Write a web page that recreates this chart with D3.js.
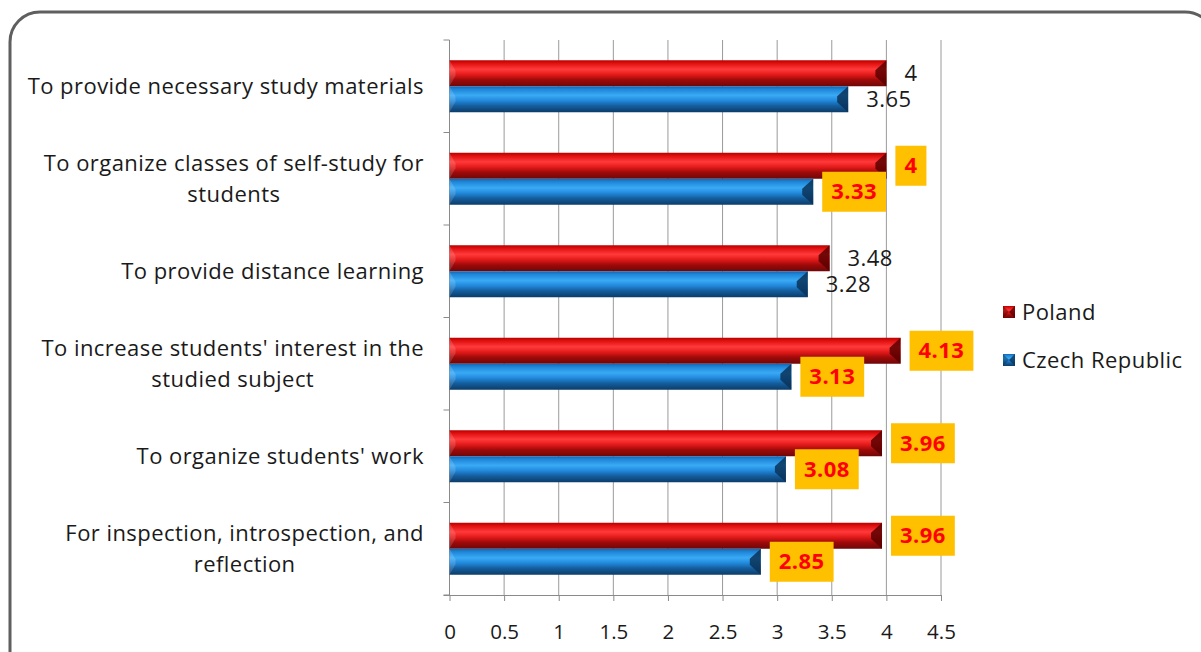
<!DOCTYPE html>
<html>
<head>
<meta charset="utf-8">
<script src="https://cdn.jsdelivr.net/npm/d3@7"></script>
<style>
  body { margin: 0; background: #fff; }
  svg { display: block; }
  text { font-family: "Open Sans", Lato, sans-serif; }
</style>
</head>
<body>
<svg id="chart" width="1201" height="652"></svg>
<script>
// data
const categories = [
  ["To provide necessary study materials"],
  ["To organize classes of self-study for", "students"],
  ["To provide distance learning"],
  ["To increase students' interest in the", "studied subject"],
  ["To organize students' work"],
  ["For inspection, introspection, and", "reflection"]
];
const poland = [4, 4, 3.48, 4.13, 3.96, 3.96];
const czech = [3.65, 3.33, 3.28, 3.13, 3.08, 2.85];
// which labels get the orange box
const polandBoxed = [false, true, false, true, true, true];
const czechBoxed = [false, true, false, true, true, true];
const xTicks = [0, 0.5, 1, 1.5, 2, 2.5, 3, 3.5, 4, 4.5];
const seriesNames = ["Poland", "Czech Republic"];

const fontSize = '22px';
const spacing = '0.45px';
const svg = d3.select('#chart');

// outer frame
svg.append('rect')
  .attr('x', 10).attr('y', 12)
  .attr('width', 1205).attr('height', 700)
  .attr('rx', 30).attr('ry', 30)
  .attr('fill', '#fff')
  .attr('stroke', '#5f5f5f')
  .attr('stroke-width', 3);

const plotLeft = 449.5, plotRight = 941, plotTop = 40, plotBottom = 595;

const x = d3.scaleLinear().domain([0, 4.5]).range([plotLeft, plotRight]);
const y = d3.scaleBand().domain(d3.range(categories.length)).range([plotTop, plotBottom]);

// gradients for the bevelled bars
const defs = svg.append('defs');
function addGrad(id, stops) {
  const g = defs.append('linearGradient').attr('id', id)
    .attr('x1', 0).attr('y1', 0).attr('x2', 0).attr('y2', 1);
  stops.forEach(s => g.append('stop').attr('offset', s[0]).attr('stop-color', s[1]));
}
addGrad('redGrad', [[0, '#b80000'], [0.12, '#e01010'], [0.35, '#ff3a3a'], [0.55, '#e41a1a'], [0.75, '#a00a0a'], [1, '#6e0606']]);
addGrad('blueGrad', [[0, '#1565b0'], [0.12, '#1f86d8'], [0.35, '#3aaaf5'], [0.55, '#2289dc'], [0.75, '#145e9e'], [1, '#0c3c68']]);

// gridlines
svg.append('g')
  .selectAll('line')
  .data(xTicks.slice(1))
  .join('line')
  .attr('x1', d => x(d)).attr('x2', d => x(d))
  .attr('y1', plotTop).attr('y2', plotBottom)
  .attr('stroke', '#9a9a9a').attr('stroke-width', 1);

// bottom axis
const xAxis = d3.axisBottom(x).tickValues(xTicks).tickSize(6).tickSizeOuter(0)
  .tickFormat(d => String(d));
const gx = svg.append('g').attr('transform', `translate(0,${plotBottom})`).call(xAxis);
gx.select('.domain').attr('stroke', '#8a8a8a').attr('d', `M${plotLeft - 6},0.5H${plotRight}`);
gx.selectAll('.tick line').attr('stroke', '#8a8a8a');
gx.selectAll('.tick text')
  .attr('y', 37).attr('dy', '0.35em')
  .attr('fill', '#1a1a1a')
  .style('font-size', '20.5px');

// left axis line + category boundary ticks
svg.append('line')
  .attr('x1', plotLeft).attr('x2', plotLeft).attr('y1', plotTop).attr('y2', plotBottom)
  .attr('stroke', '#8a8a8a');
svg.append('g')
  .selectAll('line')
  .data(d3.range(categories.length + 1))
  .join('line')
  .attr('x1', plotLeft - 6).attr('x2', plotLeft)
  .attr('y1', d => plotTop + d * y.bandwidth()).attr('y2', d => plotTop + d * y.bandwidth())
  .attr('stroke', '#8a8a8a');

// category labels: block right aligned, lines centred in block
const labelRight = 424;
const lineH = 31;
categories.forEach((lines, i) => {
  const cy = y(i) + y.bandwidth() / 2;
  const g = svg.append('g');
  const texts = lines.map((ln, j) => g.append('text')
    .attr('y', cy + (j - (lines.length - 1) / 2) * lineH)
    .attr('dy', '0.35em')
    .attr('text-anchor', 'middle')
    .attr('fill', '#1a1a1a')
    .style('font-size', fontSize)
    .style('letter-spacing', spacing)
    .text(ln));
  const w = d3.max(texts, t => t.node().getComputedTextLength());
  texts.forEach(t => t.attr('x', labelRight - w / 2));
});

// bars
const barH = 26;
const series = [
  { vals: poland, boxed: polandBoxed, grad: 'redGrad', cap: '#5a0000', off: -barH },
  { vals: czech, boxed: czechBoxed, grad: 'blueGrad', cap: '#0a3358', off: 0 }
];

series.forEach(s => {
  const g = svg.append('g');
  s.vals.forEach((v, i) => {
    const y0 = y(i) + y.bandwidth() / 2 + s.off;
    const x1 = x(v);
    g.append('rect')
      .attr('x', plotLeft).attr('y', y0)
      .attr('width', x1 - plotLeft).attr('height', barH)
      .attr('fill', `url(#${s.grad})`);
    // end cap facet
    g.append('polygon')
      .attr('points', [[x1 - 11, y0 + barH * 0.38], [x1, y0], [x1, y0 + barH], [x1 - 11, y0 + barH * 0.62]].map(p => p.join(',')).join(' '))
      .attr('fill', s.cap).attr('opacity', 0.85);
    // left facet
    g.append('polygon')
      .attr('points', [[plotLeft, y0], [plotLeft + 6, y0 + barH * 0.4], [plotLeft + 6, y0 + barH * 0.6], [plotLeft, y0 + barH]].map(p => p.join(',')).join(' '))
      .attr('fill', '#fff').attr('opacity', 0.15);
  });
});

// data labels (drawn after bars so boxes sit on top)
series.forEach(s => {
  const g = svg.append('g');
  s.vals.forEach((v, i) => {
    const cy = y(i) + y.bandwidth() / 2 + s.off + barH / 2;
    const bx = x(v) + 9;
    const t = g.append('text')
      .attr('x', bx + 9).attr('y', cy).attr('dy', '0.35em')
      .style('font-size', fontSize)
      .style('letter-spacing', spacing)
      .text(String(v));
    if (s.boxed[i]) {
      t.attr('fill', '#ff0000').style('font-weight', 'bold');
      const w = t.node().getComputedTextLength();
      g.insert('rect', 'text')
        .attr('x', bx).attr('y', cy - 20)
        .attr('width', w + 18).attr('height', 40)
        .attr('fill', '#ffc000');
    } else {
      t.attr('fill', '#1a1a1a');
    }
  });
});

// legend
const legend = svg.append('g').attr('transform', 'translate(1003,0)');
const legendY = [312, 360];
seriesNames.forEach((name, i) => {
  const s = series[i];
  const ly = legendY[i];
  legend.append('rect')
    .attr('x', 0).attr('y', ly - 6).attr('width', 12).attr('height', 12)
    .attr('fill', `url(#${s.grad})`);
  legend.append('polygon')
    .attr('points', '0,' + (ly - 6) + ' 6,' + ly + ' 0,' + (ly + 6))
    .attr('fill', s.cap).attr('opacity', 0.5);
  legend.append('polygon')
    .attr('points', '12,' + (ly - 6) + ' 6,' + ly + ' 12,' + (ly + 6))
    .attr('fill', s.cap).attr('opacity', 0.8);
  legend.append('text')
    .attr('x', 19).attr('y', ly).attr('dy', '0.35em')
    .attr('fill', '#1a1a1a')
    .style('font-size', fontSize)
    .style('letter-spacing', spacing)
    .text(name);
});
</script>
</body>
</html>
